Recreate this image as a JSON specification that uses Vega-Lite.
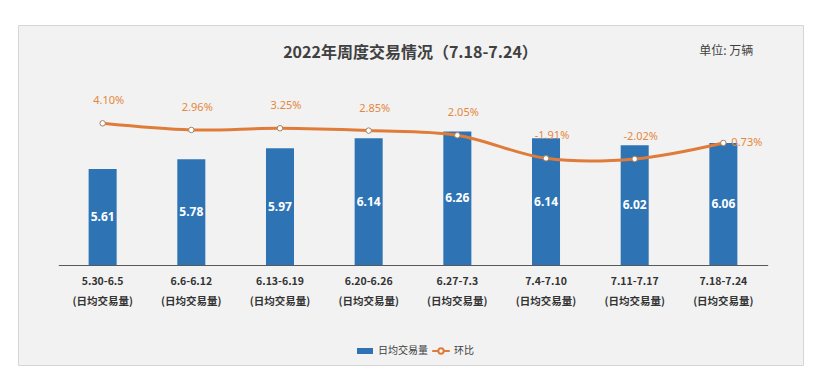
{
  "$schema": "https://vega.github.io/schema/vega-lite/v6.json",
  "width": 785,
  "height": 340,
  "autosize": {"type": "none"},
  "padding": {"left": 18, "top": 25, "right": 22, "bottom": 27},
  "background": "#ffffff",
  "title": {
    "text": "2022年周度交易情况（7.18-7.24）",
    "font": "Noto Sans CJK SC",
    "fontSize": 16,
    "fontWeight": "bold",
    "color": "#404040",
    "anchor": "middle",
    "offset": -36
  },
  "config": {
    "view": {"fill": "#f2f2f2", "stroke": "#d6d6d6", "strokeWidth": 1},
    "locale": {"number": {"decimal": ".", "thousands": ",", "grouping": [3], "currency": ["", ""], "minus": "-"}},
    "font": "Noto Sans CJK SC"
  },
  "data": {
    "values": [
      {"week": "5.30-6.5", "volume": 5.61, "mom": 0.041},
      {"week": "6.6-6.12", "volume": 5.78, "mom": 0.0296},
      {"week": "6.13-6.19", "volume": 5.97, "mom": 0.0325},
      {"week": "6.20-6.26", "volume": 6.14, "mom": 0.0285},
      {"week": "6.27-7.3", "volume": 6.26, "mom": 0.0205},
      {"week": "7.4-7.10", "volume": 6.14, "mom": -0.0191},
      {"week": "7.11-7.17", "volume": 6.02, "mom": -0.0202},
      {"week": "7.18-7.24", "volume": 6.06, "mom": 0.0073}
    ]
  },
  "resolve": {"scale": {"y": "independent"}},
  "layer": [
    {
      "layer": [
        {
          "mark": {"type": "bar"},
          "encoding": {
            "x": {
              "field": "week",
              "type": "nominal",
              "sort": null,
              "scale": {"range": [40.3, 749.7], "paddingInner": 0.684, "paddingOuter": 0.342},
              "axis": {
                "title": null,
                "offset": -100,
                "domainColor": "#595959",
                "domainWidth": 1,
                "ticks": false,
                "grid": false,
                "labelAngle": 0,
                "labelExpr": "[datum.label, '(日均交易量)']",
                "labelFont": "Noto Sans CJK SC",
                "labelFontSize": 10.5,
                "labelFontWeight": "bold",
                "labelColor": "#333333",
                "labelLineHeight": 20,
                "labelPadding": 11
              }
            },
            "y": {
              "field": "volume",
              "type": "quantitative",
              "scale": {"domain": [3.95, 8.099], "range": [240, 0], "zero": false, "nice": false},
              "axis": null
            },
            "y2": {"datum": 3.95},
            "color": {
              "datum": "日均交易量",
              "scale": {"range": ["#2e74b5"]},
              "legend": {
                "orient": "none",
                "legendX": 338,
                "legendY": 317,
                "title": null,
                "padding": 0,
                "symbolType": "M-1,-0.375H1V0.375H-1Z",
                "symbolSize": 256,
                "labelOffset": 4,
                "labelFont": "Noto Sans CJK SC",
                "labelFontSize": 10,
                "labelColor": "#404040"
              }
            }
          }
        },
        {
          "data": {"values": [{"unit": "单位: 万辆"}]},
          "mark": {"type": "text", "fontSize": 12, "color": "#404040", "dx": 3, "baseline": "middle", "font": "Noto Sans CJK SC"},
          "encoding": {
            "x": {"datum": "7.18-7.24", "type": "nominal"},
            "y": {"datum": 7.649, "type": "quantitative"},
            "text": {"field": "unit"}
          }
        }
      ]
    },
    {
      "mark": {"type": "text", "color": "#ffffff", "fontWeight": "bold", "fontSize": 12, "font": "Noto Sans", "baseline": "middle"},
      "encoding": {
        "x": {"field": "week", "type": "nominal", "sort": null},
        "y": {
          "field": "volume",
          "type": "quantitative",
          "scale": {"domain": [3.95, 12.248], "range": [240, 0], "zero": false, "nice": false},
          "axis": null
        },
        "text": {"field": "volume", "format": ".2f"}
      }
    },
    {
      "layer": [
        {
          "mark": {"type": "line", "interpolate": "cardinal", "strokeWidth": 3, "color": "#df7c3a"},
          "encoding": {
            "x": {"field": "week", "type": "nominal", "sort": null},
            "y": {
              "field": "mom",
              "type": "quantitative",
              "scale": {"domain": [-0.2019, 0.2095], "range": [240, 0], "zero": false, "nice": false},
              "axis": null
            },
            "stroke": {
              "datum": "环比",
              "scale": {"range": ["#df7c3a"]},
              "legend": {
                "orient": "none",
                "legendX": 413,
                "legendY": 316,
                "title": null,
                "padding": 0,
                "symbolType": "M-1,0H-0.3M0.3,0H1M0.3,0A0.3,0.3,0,1,1,-0.3,0A0.3,0.3,0,1,1,0.3,0",
                "symbolSize": 310,
                "symbolStrokeWidth": 2,
                "symbolFillColor": "#ffffff",
                "labelOffset": 3,
                "labelFont": "Noto Sans CJK SC",
                "labelFontSize": 10,
                "labelColor": "#404040",
                "encode": {"symbols": {"update": {"fill": {"value": "#ffffff"}, "strokeWidth": {"value": 2}}}}
              }
            }
          }
        },
        {
          "mark": {"type": "point", "filled": true, "fill": "#ffffff", "stroke": "#a8805f", "strokeWidth": 1, "size": 30, "opacity": 1},
          "encoding": {
            "x": {"field": "week", "type": "nominal", "sort": null},
            "y": {"field": "mom", "type": "quantitative"}
          }
        },
        {
          "transform": [{"filter": "datum.week !== '7.18-7.24'"}],
          "mark": {"type": "text", "color": "#e5873c", "fontSize": 11, "font": "Noto Sans", "dx": 6, "dy": -22, "baseline": "middle"},
          "encoding": {
            "x": {"field": "week", "type": "nominal", "sort": null},
            "y": {"field": "mom", "type": "quantitative"},
            "text": {"field": "mom", "format": ".2%"}
          }
        },
        {
          "transform": [{"filter": "datum.week === '7.18-7.24'"}],
          "mark": {"type": "text", "color": "#e5873c", "fontSize": 11, "font": "Noto Sans", "dx": 8, "dy": 0, "align": "left", "baseline": "middle"},
          "encoding": {
            "x": {"field": "week", "type": "nominal", "sort": null},
            "y": {"field": "mom", "type": "quantitative"},
            "text": {"field": "mom", "format": ".2%"}
          }
        }
      ]
    }
  ]
}
